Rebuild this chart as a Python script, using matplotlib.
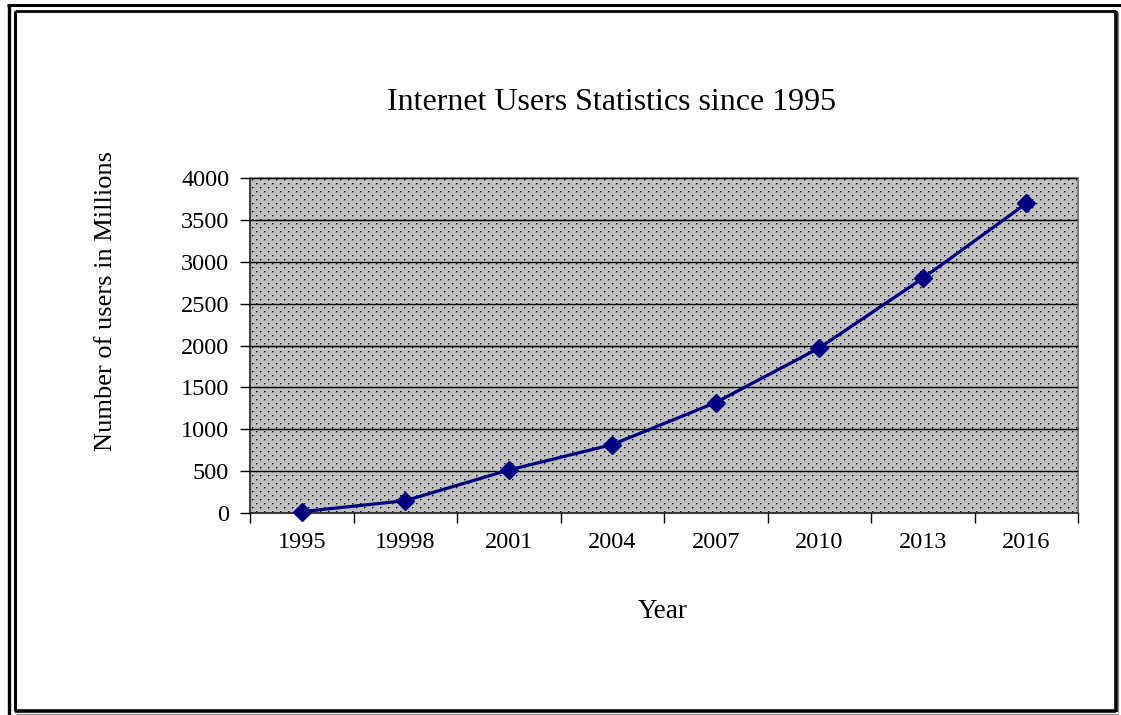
import numpy as np
import matplotlib
matplotlib.use("Agg")
import matplotlib.pyplot as plt
from matplotlib.lines import Line2D

years = ["1995", "19998", "2001", "2004", "2007", "2010", "2013", "2016"]
users = [16, 147, 513, 817, 1319, 1971, 2802, 3696]
y_ticks = [0, 500, 1000, 1500, 2000, 2500, 3000, 3500, 4000]

title = "Internet Users Statistics since 1995"
x_label = "Year"
y_label = "Number of users in Millions"

W, H = 1121, 715
plt.rcParams["font.family"] = ["Liberation Serif", "DejaVu Serif"]

fig = plt.figure(figsize=(W / 100, H / 100), dpi=100)
fig.patch.set_facecolor("white")

# plot area in pixel coordinates
left_px, right_px, top_px, bottom_px = 250, 1078, 178, 513
ax = fig.add_axes([left_px / W, 1 - bottom_px / H,
                   (right_px - left_px) / W, (bottom_px - top_px) / H])

n = len(years)
ax.set_xlim(-0.5, n - 0.5)
ax.set_ylim(0, 4000)

# dotted gray background pattern
pw, ph = right_px - left_px, bottom_px - top_px
pat = np.full((ph, pw), 0.75)
for r in range(1, ph, 4):
    off = 2 if (r // 4) % 2 == 0 else 6
    for c in range(off, pw - 1, 8):
        pat[r, c] = 0.0
        pat[r, c + 1] = 0.35
        if r + 1 < ph:
            pat[r + 1, c] = 0.45
ax.imshow(pat, cmap="gray", vmin=0, vmax=1, extent=(0, 1, 0, 1),
          transform=ax.transAxes, interpolation="nearest", aspect="auto",
          zorder=0)

ax.set_yticks(y_ticks)
ax.yaxis.grid(True, color="black", linewidth=1.0, zorder=1)
ax.set_axisbelow(False)

x = np.arange(n)
ax.plot(x, users, color="#000080", linewidth=2.3, marker="D",
        markersize=9.5, markerfacecolor="#000080", markeredgecolor="#000080",
        zorder=3, clip_on=False)

# category ticks sit between the labels
ax.set_xticks(np.arange(-0.5, n, 1.0))
ax.set_xticklabels([])
ax.set_xticks(x, minor=True)
ax.set_xticklabels(years, minor=True)
ax.tick_params(axis="x", which="major", direction="out", length=7,
               width=1, color="black")
ax.tick_params(axis="x", which="minor", length=0, pad=14, labelsize=17.5)
ax.tick_params(axis="y", direction="out", length=7, width=1,
               color="black", labelsize=17.5, pad=8)

for side in ["top", "right"]:
    ax.spines[side].set_color("#808080")
    ax.spines[side].set_linewidth(1.5)
ax.spines["left"].set_color("#404040")
ax.spines["bottom"].set_color("#404040")
ax.spines["left"].set_linewidth(1.5)
ax.spines["bottom"].set_linewidth(1.5)

fig.text(612 / W, 1 - 102 / H, title, ha="center", va="center",
         fontsize=23)
fig.text(663 / W, 1 - 612 / H, x_label, ha="center", va="center",
         fontsize=19.5)
fig.text(106 / W, 1 - 301 / H, y_label, ha="center", va="center",
         rotation=90, fontsize=19)

# page frame
def fl(x0, y0, x1, y1, lw, color="black"):
    fig.add_artist(Line2D([x0 / W, x1 / W], [1 - y0 / H, 1 - y1 / H],
                          transform=fig.transFigure, color=color,
                          linewidth=lw, solid_capstyle="butt"))

fl(7, 5, W, 5, 2.2)
fl(8.5, 5, 8.5, H, 2.4)
fl(14.5, 11, 1115.5, 11, 2.0)
fl(14.5, 11, 14.5, 711, 2.2)
fl(1115.5, 11, 1115.5, 711.5, 2.6)
fl(14.5, 711, 1115.5, 711, 2.6)
fl(1118, 12, 1118, 713, 0.8, "#808080")
fl(16, 713.5, 1118, 713.5, 0.8, "#808080")

fig.savefig("out.png", dpi=100, facecolor="white")
